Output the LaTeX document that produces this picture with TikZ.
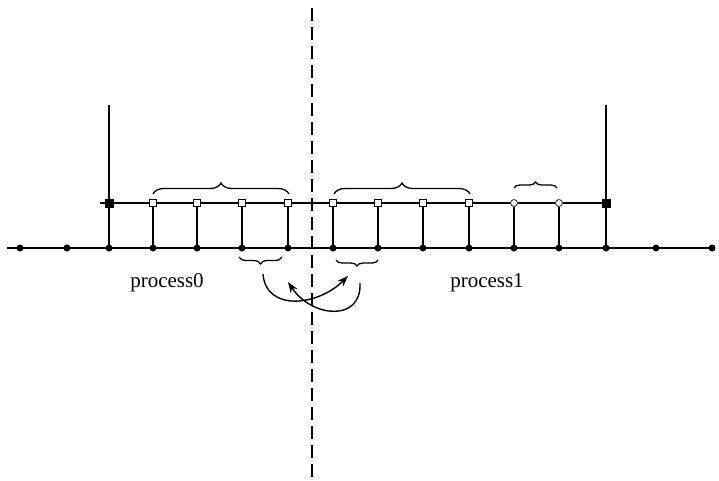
\documentclass[tikz,border=0pt]{standalone}
\usepackage{fontspec}
\setmainfont{Liberation Serif}
\usetikzlibrary{decorations.pathreplacing,arrows.meta}
\tikzset{
  wire/.style={line width=1.8pt, black},
  dot/.style={circle, fill=black, inner sep=0pt, minimum size=7pt},
  hsq/.style={rectangle, draw=black, line width=1.3pt, fill=white, inner sep=0pt, minimum size=7.5pt},
  hcirc/.style={circle, draw=black!70, line width=1pt, fill=white, inner sep=0pt, minimum size=7pt},
  bsq/.style={rectangle, fill=black, inner sep=0pt, minimum size=9pt},
  brc/.style={decorate, decoration={brace, amplitude=#1}, line width=1.3pt},
  brc/.default=11pt,
  swap/.style={line width=1.4pt, -{Stealth[length=11pt,width=8pt]}},
  lbl/.style={font=\fontsize{21}{25}\selectfont, inner sep=0pt, anchor=base}
}
\begin{document}
\begin{tikzpicture}[x=1pt, y=-1pt]
\useasboundingbox (0,0) rectangle (719,480);

% lower grid line and its points
\foreach \n/\x in {0/20,1/67,2/109,3/153,4/197,5/242,6/288,7/333,8/378,9/423,10/469,11/514,12/559,13/606,14/656,15/712}
  \coordinate (g\n) at (\x,248);
\draw[wire] (7,248) -- (g15);

% upper line
\coordinate (ul) at (100,203);
\foreach \n/\x in {2/109,3/153,4/197,5/242,6/288,7/333,8/378,9/423,10/469,11/514,12/559,13/606}
  \coordinate (u\n) at (\x,203);
\draw[wire] (ul) -- (u13);

% tall boundaries
\coordinate (tl) at (109,105);
\coordinate (tr) at (606,105);
\draw[wire] (tl) -- (g2);
\draw[wire] (tr) -- (g13);

% rungs
\foreach \n in {3,...,12}
  \draw[wire] (u\n) -- (g\n);

% markers
\foreach \n in {0,...,15}
  \node[dot] at (g\n) {};
\foreach \n in {3,...,10}
  \node[hsq] at (u\n) {};
\foreach \n in {11,12}
  \node[hcirc] at (u\n) {};
\node[bsq] at (u2) {};
\node[bsq] at (u13) {};

% braces above
\coordinate (b1a) at (153,194); \coordinate (b1b) at (289,194);
\coordinate (b2a) at (334,194); \coordinate (b2b) at (470,194);
\coordinate (b3a) at (514,188); \coordinate (b3b) at (557,188);
\draw[brc] (b1a) -- (b1b);
\draw[brc] (b2a) -- (b2b);
\draw[brc=6pt] (b3a) -- (b3b);

% braces below
\coordinate (c1a) at (239,257); \coordinate (c1b) at (282,257);
\coordinate (c2a) at (336,260); \coordinate (c2b) at (378,260);
\draw[brc=7pt] (c1b) -- (c1a);
\draw[brc=6pt] (c2b) -- (c2a);

% split between the two processes
\coordinate (dtop) at (312,8);
\coordinate (dbot) at (312,480);
\draw[line width=1.6pt, dash pattern=on 13pt off 6pt] (dtop) -- (dbot);

% exchange arrows
\coordinate (a0) at (263,274);
\coordinate (a1) at (348,276);
\coordinate (e0) at (360,283);
\coordinate (e1) at (288,282);
\draw[swap] (a0) .. controls (266,312) and (318,306) .. (a1);
\draw[swap] (e0) .. controls (362,322) and (312,318) .. (e1);

% labels
\node[lbl] (p0) at (167,287) {process0};
\node[lbl] (p1) at (487,287) {process1};
\end{tikzpicture}
\end{document}
